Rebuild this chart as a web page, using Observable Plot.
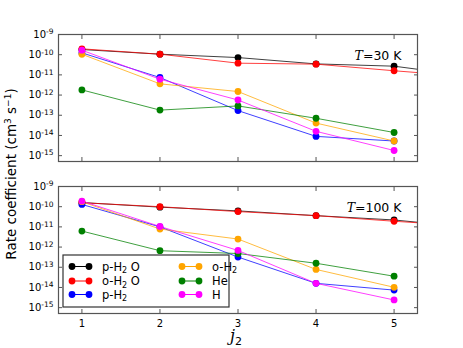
<!DOCTYPE html>
<html><head><meta charset="utf-8">
<script src="https://cdn.jsdelivr.net/npm/d3@7"></script>
<script src="https://cdn.jsdelivr.net/npm/@observablehq/plot@0.6"></script>
<style>
body{margin:0;background:#fff;}
svg{font-family:"DejaVu Sans",sans-serif;}
</style></head><body><div id="chart"></div>
<script>
const j2 = [1, 2, 3, 4, 5];
const jEdge = 5.3;
const panels = ["30 K", "100 K"];
const species = ["p-H2O", "o-H2O", "p-H2", "o-H2", "He", "H"];
const colors = ["#000000", "#ff0000", "#0000ff", "#ffa500", "#008000", "#ff00ff"];

// T = 30 K
const pH2O_30 = [1.8e-10, 1.06e-10, 7.2e-11, 3.5e-11, 2.7e-11];
const oH2O_30 = [1.95e-10, 1.06e-10, 3.8e-11, 3.4e-11, 1.6e-11];
const pH2_30  = [1.23e-10, 7.4e-12, 1.7e-13, 9e-15, 5.3e-15];
const oH2_30  = [1.05e-10, 3.6e-12, 1.5e-12, 4.1e-14, 5.3e-15];
const He_30   = [1.8e-12, 1.8e-13, 2.9e-13, 7.1e-14, 1.4e-14];
const H_30    = [1.67e-10, 6.1e-12, 5.7e-13, 1.6e-14, 1.8e-15];
const pH2O_30_edge = 1.9e-11;
const oH2O_30_edge = 1.3e-11;

// T = 100 K
const pH2O_100 = [1.6e-10, 9.5e-11, 6.2e-11, 3.6e-11, 2.2e-11];
const oH2O_100 = [1.57e-10, 1.0e-10, 5.7e-11, 3.6e-11, 1.9e-11];
const pH2_100  = [1.29e-10, 1.0e-11, 3.2e-13, 1.6e-14, 7.4e-15];
const oH2_100  = [1.77e-10, 7.8e-12, 2.5e-12, 7.8e-14, 1.02e-14];
const He_100   = [6.2e-12, 6.6e-13, 4.8e-13, 1.58e-13, 3.6e-14];
const H_100    = [1.9e-10, 1.05e-11, 6.8e-13, 1.6e-14, 2.4e-15];
const pH2O_100_edge = 1.7e-11;
const oH2O_100_edge = 1.6e-11;

const yTicks = [1e-9, 1e-10, 1e-11, 1e-12, 1e-13, 1e-14, 1e-15];

const series = {
  "30 K": [pH2O_30, oH2O_30, pH2_30, oH2_30, He_30, H_30],
  "100 K": [pH2O_100, oH2O_100, pH2_100, oH2_100, He_100, H_100]
};
const edges = {
  "30 K": [pH2O_30_edge, oH2O_30_edge],
  "100 K": [pH2O_100_edge, oH2O_100_edge]
};

const dots = [], lines = [];
for (const p of panels) {
  species.forEach((s, i) => {
    series[p][i].forEach((k, n) => {
      dots.push({panel: p, species: s, j: j2[n], k});
      lines.push({panel: p, species: s, j: j2[n], k});
    });
    if (i < 2) lines.push({panel: p, species: s, j: jEdge, k: edges[p][i]});
  });
}
const tLabels = panels.map(p => ({panel: p, label: "T=" + p}));

const fmt = d => "10^" + Math.round(Math.log10(d));

const plot = Plot.plot({
  width: 463, height: 348,
  marginTop: 34, marginBottom: 35, marginLeft: 58, marginRight: 46,
  style: {fontFamily: "DejaVu Sans, sans-serif", fontSize: "10px", color: "#000", background: "#fff"},
  x: {domain: [0.7, 5.3]},
  y: {type: "log", domain: [Math.pow(10, -15.29), 1e-9]},
  fy: {domain: panels, padding: 0.167, axis: null},
  color: {domain: species, range: colors},
  marks: [
    Plot.line(lines, {x: "j", y: "k", z: "species", stroke: "species", fy: "panel", strokeWidth: 1, strokeOpacity: 0.75, clip: true}),
    Plot.dot(dots, {x: "j", y: "k", fill: "species", fy: "panel", r: 3.4}),
    Plot.axisY(yTicks, {anchor: "left", tickSize: -4, tickPadding: 9, tickFormat: fmt, stroke: "#555", fill: "#000", label: null}),
    Plot.axisY(yTicks, {anchor: "right", tickSize: -4, tickFormat: () => "", stroke: "#555", label: null}),
    Plot.axisX(j2, {anchor: "bottom", tickSize: 0, tickPadding: 6, tickFormat: d => String(d), label: null}),
    Plot.axisX(j2, {anchor: "bottom", tickSize: -4, tickFormat: () => "", stroke: "#555", label: null, facetAnchor: null}),
    Plot.axisX(j2, {anchor: "top", tickSize: -4, tickFormat: () => "", stroke: "#555", label: null, facetAnchor: null}),
    Plot.frame({stroke: "#555", strokeWidth: 1.2}),
    Plot.text(tLabels, {text: "label", fy: "panel", frameAnchor: "top-right", dx: -16, dy: 17, textAnchor: "end", fontSize: 12.5})
  ]
});
document.getElementById("chart").appendChild(plot);

const svg = d3.select(plot);
// superscript tick labels
svg.selectAll("text").each(function() {
  const t = d3.select(this);
  const s = this.textContent;
  if (/^10\^-?\d+$/.test(s)) {
    const e = s.split("^")[1];
    t.text("");
    t.append("tspan").text("10");
    t.append("tspan").attr("dy", "-0.45em").attr("font-size", "7.5px").text(e);
  } else if (/^T=/.test(s)) {
    const rest = s.slice(1);
    t.text("");
    t.append("tspan").attr("font-family", "DejaVu Serif, serif").attr("font-style", "italic").text("T");
    t.append("tspan").text(rest);
  }
});

// axis labels
svg.append("text")
  .attr("transform", "translate(15.5,174) rotate(-90)")
  .attr("text-anchor", "middle").attr("font-size", "13.5px")
  .call(t => {
    t.append("tspan").text("Rate coefficient (cm");
    t.append("tspan").attr("dy", -5).attr("font-size", "9px").text("3");
    t.append("tspan").attr("dy", 5).text(" s");
    t.append("tspan").attr("dy", -5).attr("font-size", "9px").text("\u22121");
    t.append("tspan").attr("dy", 5).text(")");
  });
svg.append("text")
  .attr("x", 236).attr("y", 341)
  .attr("text-anchor", "middle").attr("font-size", "16px")
  .attr("font-family", "DejaVu Serif, serif").attr("font-style", "italic")
  .call(t => {
    t.append("tspan").text("j");
    t.append("tspan").attr("dy", 4).attr("font-size", "11px").attr("font-style", "normal").attr("font-family", "DejaVu Sans, sans-serif").text("2");
  });

// legend
const leg = svg.append("g").attr("text-anchor", "start");
leg.append("rect").attr("x", 63).attr("y", 255).attr("width", 166).attr("height", 52)
  .attr("fill", "#fff").attr("stroke", "#333").attr("stroke-width", 1.2);
const legendItems = [
  {s: 0, col: 0, row: 0, main: "p-H", sub: "2", tail: " O"},
  {s: 1, col: 0, row: 1, main: "o-H", sub: "2", tail: " O"},
  {s: 2, col: 0, row: 2, main: "p-H", sub: "2", tail: ""},
  {s: 3, col: 1, row: 0, main: "o-H", sub: "2", tail: ""},
  {s: 4, col: 1, row: 1, main: "He", sub: "", tail: ""},
  {s: 5, col: 1, row: 2, main: "H", sub: "", tail: ""}
];
const colX = [72, 182], rowY = [266.5, 281, 294.5];
for (const it of legendItems) {
  const x0 = colX[it.col], y0 = rowY[it.row], c = colors[it.s];
  leg.append("line").attr("x1", x0).attr("x2", x0 + 17).attr("y1", y0).attr("y2", y0).attr("stroke", c).attr("stroke-width", 1);
  leg.append("circle").attr("cx", x0).attr("cy", y0).attr("r", 3.4).attr("fill", c);
  leg.append("circle").attr("cx", x0 + 17).attr("cy", y0).attr("r", 3.4).attr("fill", c);
  const t = leg.append("text").attr("x", x0 + 30).attr("y", y0 + 4).attr("font-size", "11.5px").attr("text-anchor", "start");
  t.append("tspan").text(it.main);
  if (it.sub) t.append("tspan").attr("dy", 2.5).attr("font-size", "8px").text(it.sub);
  if (it.tail) t.append("tspan").attr("dy", -2.5).text(it.tail);
}
</script></body></html>
